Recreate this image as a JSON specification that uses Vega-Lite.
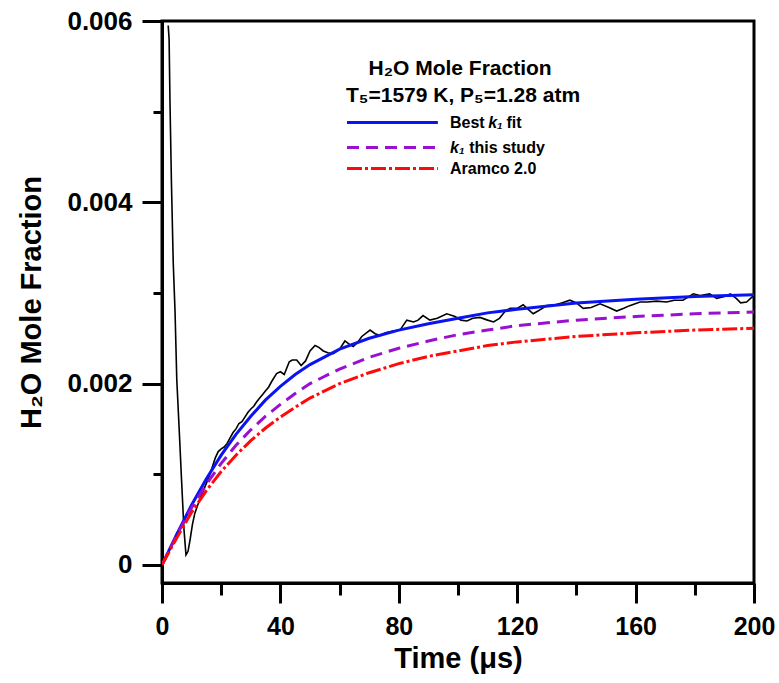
{
  "$schema": "https://vega.github.io/schema/vega-lite/v6.json",
  "autosize": {"type": "none"},
  "width": 592,
  "height": 562,
  "padding": {"left": 162, "top": 21, "right": 25, "bottom": 100},
  "background": "white",
  "config": {
    "view": {"stroke": "black", "strokeWidth": 3},
    "font": "Liberation Sans",
    "axis": {"grid": false, "domainColor": "black", "domainWidth": 3, "tickColor": "black", "tickWidth": 3, "labelColor": "black", "titleColor": "black", "labelFont": "Liberation Sans", "titleFont": "Liberation Sans", "labelFontWeight": "bold", "titleFontWeight": "bold"}
  },
  "datasets": {
    "blue": [
      {"t": 0, "v": 0}, {"t": 5, "v": 0.00034}, {"t": 10, "v": 0.00066}, {"t": 15, "v": 0.00095}, {"t": 20, "v": 0.00121}, {"t": 25, "v": 0.00144}, {"t": 30, "v": 0.00164}, {"t": 35, "v": 0.00182}, {"t": 40, "v": 0.00197}, {"t": 45, "v": 0.0021}, {"t": 50, "v": 0.00221}, {"t": 60, "v": 0.00238}, {"t": 70, "v": 0.0025}, {"t": 80, "v": 0.00259}, {"t": 90, "v": 0.00266}, {"t": 100, "v": 0.00272}, {"t": 110, "v": 0.00278}, {"t": 120, "v": 0.00282}, {"t": 140, "v": 0.00289}, {"t": 160, "v": 0.00293}, {"t": 180, "v": 0.00296}, {"t": 200, "v": 0.00298}
    ],
    "purple": [
      {"t": 0, "v": 0}, {"t": 5, "v": 0.00033}, {"t": 10, "v": 0.00063}, {"t": 15, "v": 0.00089}, {"t": 20, "v": 0.00112}, {"t": 25, "v": 0.00132}, {"t": 30, "v": 0.00149}, {"t": 35, "v": 0.00164}, {"t": 40, "v": 0.00177}, {"t": 45, "v": 0.00189}, {"t": 50, "v": 0.002}, {"t": 60, "v": 0.00216}, {"t": 70, "v": 0.00229}, {"t": 80, "v": 0.00239}, {"t": 90, "v": 0.00247}, {"t": 100, "v": 0.00254}, {"t": 110, "v": 0.00259}, {"t": 120, "v": 0.00264}, {"t": 140, "v": 0.0027}, {"t": 160, "v": 0.00274}, {"t": 180, "v": 0.00277}, {"t": 200, "v": 0.00279}
    ],
    "red": [
      {"t": 0, "v": 0}, {"t": 5, "v": 0.0003}, {"t": 10, "v": 0.00058}, {"t": 15, "v": 0.00082}, {"t": 20, "v": 0.00103}, {"t": 25, "v": 0.00121}, {"t": 30, "v": 0.00137}, {"t": 35, "v": 0.00151}, {"t": 40, "v": 0.00163}, {"t": 45, "v": 0.00174}, {"t": 50, "v": 0.00184}, {"t": 60, "v": 0.002}, {"t": 70, "v": 0.00212}, {"t": 80, "v": 0.00222}, {"t": 90, "v": 0.0023}, {"t": 100, "v": 0.00236}, {"t": 110, "v": 0.00242}, {"t": 120, "v": 0.00246}, {"t": 140, "v": 0.00252}, {"t": 160, "v": 0.00256}, {"t": 180, "v": 0.00259}, {"t": 200, "v": 0.00261}
    ],
    "black": [
      {"t": 2.1, "v": 0.00595}, {"t": 2.4, "v": 0.0058}, {"t": 2.7, "v": 0.0051}, {"t": 3.2, "v": 0.0042}, {"t": 3.8, "v": 0.00333}, {"t": 4.4, "v": 0.0028}, {"t": 5.0, "v": 0.00204}, {"t": 5.8, "v": 0.0015}, {"t": 6.6, "v": 0.00094}, {"t": 7.4, "v": 0.0004}, {"t": 8.1, "v": 0.00011}, {"t": 8.8, "v": 0.00015}, {"t": 9.5, "v": 0.00028}, {"t": 10.3, "v": 0.00045}, {"t": 11.1, "v": 0.00057}, {"t": 12.5, "v": 0.0007}, {"t": 14.5, "v": 0.00086}, {"t": 16, "v": 0.00098}, {"t": 17, "v": 0.00108}, {"t": 18, "v": 0.00118}, {"t": 19, "v": 0.00125}, {"t": 20, "v": 0.00128}, {"t": 21, "v": 0.0013}, {"t": 22, "v": 0.00134}, {"t": 23, "v": 0.0014}, {"t": 24, "v": 0.00146}, {"t": 25, "v": 0.0015}, {"t": 26, "v": 0.00156}, {"t": 27, "v": 0.00158}, {"t": 28, "v": 0.00163}, {"t": 29, "v": 0.00168}, {"t": 30, "v": 0.00172}, {"t": 31, "v": 0.00175}, {"t": 32, "v": 0.0018}, {"t": 33, "v": 0.00184}, {"t": 34, "v": 0.00188}, {"t": 35, "v": 0.00192}, {"t": 36, "v": 0.00196}, {"t": 37, "v": 0.00202}, {"t": 38.7, "v": 0.00211}, {"t": 40, "v": 0.00213}, {"t": 41.3, "v": 0.0021}, {"t": 43, "v": 0.00224}, {"t": 44, "v": 0.00226}, {"t": 45.5, "v": 0.00226}, {"t": 47, "v": 0.0022}, {"t": 48.5, "v": 0.00225}, {"t": 50, "v": 0.00236}, {"t": 51.7, "v": 0.00242}, {"t": 53, "v": 0.0024}, {"t": 54.5, "v": 0.00236}, {"t": 56, "v": 0.00234}, {"t": 57.9, "v": 0.00233}, {"t": 60, "v": 0.00238}, {"t": 61.8, "v": 0.00247}, {"t": 63, "v": 0.00244}, {"t": 64.6, "v": 0.00241}, {"t": 66, "v": 0.00245}, {"t": 67.5, "v": 0.00252}, {"t": 70.3, "v": 0.00259}, {"t": 72, "v": 0.00255}, {"t": 73.6, "v": 0.00253}, {"t": 75.5, "v": 0.00256}, {"t": 78, "v": 0.00258}, {"t": 80.4, "v": 0.00259}, {"t": 82.7, "v": 0.0027}, {"t": 85, "v": 0.00268}, {"t": 86.5, "v": 0.0027}, {"t": 88.2, "v": 0.00275}, {"t": 90.5, "v": 0.0027}, {"t": 93, "v": 0.00272}, {"t": 96.2, "v": 0.00277}, {"t": 99, "v": 0.00274}, {"t": 101, "v": 0.0027}, {"t": 103, "v": 0.00269}, {"t": 105, "v": 0.00272}, {"t": 107.4, "v": 0.00273}, {"t": 110, "v": 0.0027}, {"t": 112, "v": 0.00268}, {"t": 114, "v": 0.00272}, {"t": 116, "v": 0.0028}, {"t": 117.6, "v": 0.00283}, {"t": 120, "v": 0.00283}, {"t": 122, "v": 0.00287}, {"t": 124, "v": 0.00281}, {"t": 125.4, "v": 0.00277}, {"t": 127, "v": 0.0028}, {"t": 130, "v": 0.00286}, {"t": 133, "v": 0.00287}, {"t": 135, "v": 0.00289}, {"t": 137.8, "v": 0.00292}, {"t": 140, "v": 0.00289}, {"t": 142.3, "v": 0.00283}, {"t": 145, "v": 0.00284}, {"t": 148, "v": 0.00288}, {"t": 151, "v": 0.00284}, {"t": 153.6, "v": 0.0028}, {"t": 156, "v": 0.00283}, {"t": 158, "v": 0.00286}, {"t": 161.5, "v": 0.0029}, {"t": 164, "v": 0.0029}, {"t": 167, "v": 0.00291}, {"t": 170.5, "v": 0.0029}, {"t": 173, "v": 0.00292}, {"t": 176, "v": 0.00292}, {"t": 178, "v": 0.00296}, {"t": 179.5, "v": 0.00299}, {"t": 182, "v": 0.00297}, {"t": 185, "v": 0.00299}, {"t": 187.4, "v": 0.00294}, {"t": 190, "v": 0.00296}, {"t": 192, "v": 0.00299}, {"t": 194, "v": 0.00294}, {"t": 195.5, "v": 0.00289}, {"t": 197.5, "v": 0.0029}, {"t": 199.2, "v": 0.00295}, {"t": 200, "v": 0.00297}
    ],
    "legendLines": [
      {"series": "blue", "x": 62.5, "x2": 93.2, "y": 0.004879},
      {"series": "purple", "x": 62.5, "x2": 93.2, "y": 0.004604},
      {"series": "red", "x": 62.5, "x2": 93.2, "y": 0.004372}
    ],
    "legendText": [
      {"x": 97.3, "y": 0.004879, "text": "Best"},
      {"x": 116.4, "y": 0.004879, "text": "fit"},
      {"x": 103.8, "y": 0.004604, "text": "this study"},
      {"x": 97.3, "y": 0.004372, "text": "Aramco 2.0"}
    ],
    "legendItalic": [
      {"x": 110.2, "y": 0.004879, "text": "k₁"},
      {"x": 97.3, "y": 0.004604, "text": "k₁"}
    ],
    "titles": [
      {"x": 100.7, "y": 0.005474, "text": "H₂O Mole Fraction"},
      {"x": 101.7, "y": 0.005176, "text": "T₅=1579 K, P₅=1.28 atm"}
    ]
  },
  "resolve": {"axis": {"x": "independent", "y": "independent"}},
  "layer": [
    {
      "data": {"name": "black"},
      "mark": {"type": "line", "color": "black", "strokeWidth": 1.6, "clip": true},
      "encoding": {
        "x": {"field": "t", "type": "quantitative", "scale": {"domain": [0, 200], "nice": false, "zero": false},
          "axis": {"orient": "bottom", "values": [20, 60, 100, 140, 180], "tickSize": 12, "labels": false, "domain": false, "title": null}},
        "y": {"field": "v", "type": "quantitative", "scale": {"domain": [-0.0002, 0.006], "nice": false, "zero": false},
          "axis": {"orient": "left", "values": [0.001, 0.003, 0.005], "tickSize": 9, "labels": false, "domain": false, "title": null}}
      }
    },
    {
      "data": {"name": "blue"},
      "mark": {"type": "line", "color": "#0a14f0", "strokeWidth": 3, "clip": true},
      "encoding": {
        "x": {"field": "t", "type": "quantitative",
          "axis": {"orient": "bottom", "values": [0, 40, 80, 120, 160, 200], "tickSize": 20, "labelFontSize": 25, "labelPadding": 11, "labelFlush": false, "title": "Time (μs)", "titleFontSize": 29, "titlePadding": 5}},
        "y": {"field": "v", "type": "quantitative",
          "axis": {"orient": "left", "values": [0, 0.002, 0.004, 0.006], "tickSize": 20, "labelFontSize": 26, "labelPadding": 10, "labelFlush": false, "labelExpr": "datum.value == 0 ? '0' : format(datum.value, '.3f')", "title": "H₂O Mole Fraction", "titleFontSize": 29, "titlePadding": 20}}
      }
    },
    {
      "data": {"name": "purple"},
      "mark": {"type": "line", "color": "#9a10d0", "strokeWidth": 3, "strokeDash": [12, 7], "clip": true},
      "encoding": {
        "x": {"field": "t", "type": "quantitative", "axis": null},
        "y": {"field": "v", "type": "quantitative", "axis": null}
      }
    },
    {
      "data": {"name": "red"},
      "mark": {"type": "line", "color": "#ff0a0a", "strokeWidth": 3, "strokeDash": [15, 3, 3, 3], "clip": true},
      "encoding": {
        "x": {"field": "t", "type": "quantitative", "axis": null},
        "y": {"field": "v", "type": "quantitative", "axis": null}
      }
    },
    {
      "data": {"name": "legendLines"},
      "transform": [{"filter": "datum.series == 'blue'"}],
      "mark": {"type": "rule", "color": "#0a14f0", "strokeWidth": 3},
      "encoding": {
        "x": {"field": "x", "type": "quantitative", "axis": null},
        "x2": {"field": "x2"},
        "y": {"field": "y", "type": "quantitative", "axis": null}
      }
    },
    {
      "data": {"name": "legendLines"},
      "transform": [{"filter": "datum.series == 'purple'"}],
      "mark": {"type": "rule", "color": "#9a10d0", "strokeWidth": 3, "strokeDash": [12, 7]},
      "encoding": {
        "x": {"field": "x", "type": "quantitative", "axis": null},
        "x2": {"field": "x2"},
        "y": {"field": "y", "type": "quantitative", "axis": null}
      }
    },
    {
      "data": {"name": "legendLines"},
      "transform": [{"filter": "datum.series == 'red'"}],
      "mark": {"type": "rule", "color": "#ff0a0a", "strokeWidth": 3, "strokeDash": [15, 3, 3, 3]},
      "encoding": {
        "x": {"field": "x", "type": "quantitative", "axis": null},
        "x2": {"field": "x2"},
        "y": {"field": "y", "type": "quantitative", "axis": null}
      }
    },
    {
      "data": {"name": "legendText"},
      "mark": {"type": "text", "align": "left", "baseline": "middle", "font": "Liberation Sans", "fontWeight": "bold", "fontSize": 16, "color": "black"},
      "encoding": {
        "x": {"field": "x", "type": "quantitative", "axis": null},
        "y": {"field": "y", "type": "quantitative", "axis": null},
        "text": {"field": "text"}
      }
    },
    {
      "data": {"name": "legendItalic"},
      "mark": {"type": "text", "align": "left", "baseline": "middle", "font": "Liberation Sans", "fontWeight": "bold", "fontStyle": "italic", "fontSize": 16, "color": "black"},
      "encoding": {
        "x": {"field": "x", "type": "quantitative", "axis": null},
        "y": {"field": "y", "type": "quantitative", "axis": null},
        "text": {"field": "text"}
      }
    },
    {
      "data": {"name": "titles"},
      "mark": {"type": "text", "align": "center", "baseline": "middle", "font": "Liberation Sans", "fontWeight": "bold", "fontSize": 21, "color": "black"},
      "encoding": {
        "x": {"field": "x", "type": "quantitative", "axis": null},
        "y": {"field": "y", "type": "quantitative", "axis": null},
        "text": {"field": "text"}
      }
    }
  ]
}
